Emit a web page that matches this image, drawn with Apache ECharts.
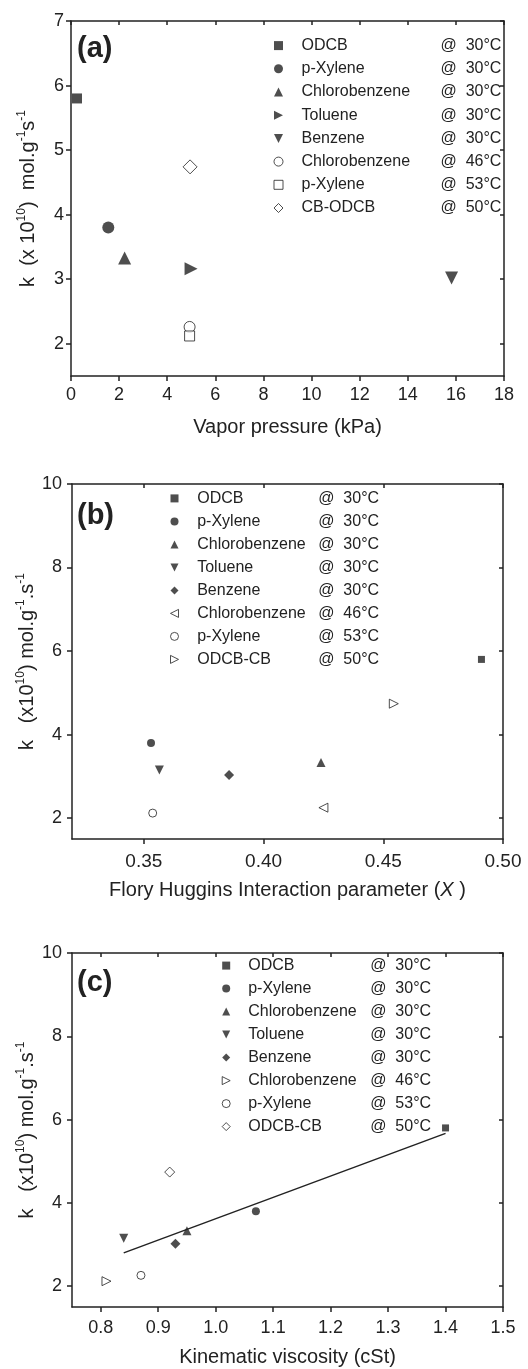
<!DOCTYPE html>
<html>
<head>
<meta charset="utf-8">
<script src="https://cdn.jsdelivr.net/npm/echarts@6/dist/echarts.min.js"></script>
<style>
  html, body { margin: 0; padding: 0; background: #fff; }
  #chart { width: 528px; height: 1369px; }
</style>
</head>
<body>
<div id="chart"></div>
<script>
// ---- data ----
var tempsA = ['30', '30', '30', '30', '30', '46', '53', '50'];
var namesA = ['ODCB', 'p-Xylene', 'Chlorobenzene', 'Toluene', 'Benzene', 'Chlorobenzene', 'p-Xylene', 'CB-ODCB'];
var xA = [0.25, 1.55, 2.23, 4.99, 15.82, 4.93, 4.93, 4.95];
var yA = [5.80, 3.80, 3.33, 3.16, 3.02, 2.26, 2.12, 4.74];

var tempsB = ['30', '30', '30', '30', '30', '46', '53', '50'];
var namesB = ['ODCB', 'p-Xylene', 'Chlorobenzene', 'Toluene', 'Benzene', 'Chlorobenzene', 'p-Xylene', 'ODCB-CB'];
var xB = [0.491, 0.353, 0.424, 0.3565, 0.3856, 0.425, 0.3537, 0.4544];
var yB = [5.80, 3.80, 3.33, 3.15, 3.03, 2.25, 2.12, 4.74];

var tempsC = ['30', '30', '30', '30', '30', '46', '53', '50'];
var namesC = ['ODCB', 'p-Xylene', 'Chlorobenzene', 'Toluene', 'Benzene', 'Chlorobenzene', 'p-Xylene', 'ODCB-CB'];
var xC = [1.40, 1.07, 0.95, 0.84, 0.93, 0.81, 0.87, 0.92];
var yC = [5.80, 3.80, 3.33, 3.15, 3.02, 2.12, 2.26, 4.74];
var fitX = [0.84, 1.40];
var fitY = [2.80, 5.67];

var ticksAX = [0, 2, 4, 6, 8, 10, 12, 14, 16, 18];
var ticksAY = [2, 3, 4, 5, 6, 7];
var ticksBX = [0.35, 0.40, 0.45, 0.50];
var ticksBY = [2, 4, 6, 8, 10];
var ticksCX = [0.8, 0.9, 1.0, 1.1, 1.2, 1.3, 1.4, 1.5];
var ticksCY = [2, 4, 6, 8, 10];

// ---- styling ----
var FONT = 'Liberation Sans, Arial, sans-serif';
var INK = '#222';

// legend icons for the rotated triangles (legend does not pick up symbolRotate)
var ICON = {
  '0': 'triangle',
  '-90': 'path://M0,0L10,5L0,10Z',
  '180': 'path://M0,0L10,0L5,10Z',
  '90': 'path://M10,0L0,5L10,10Z'
};

// marker: [symbol, rotate, filled, size]
var markA = [['rect', 0, 1, 10], ['circle', 0, 1, 12], ['triangle', 0, 1, 13], ['triangle', -90, 1, 13],
  ['triangle', 180, 1, 13], ['circle', 0, 0, 11], ['rect', 0, 0, 10], ['diamond', 0, 0, 14]];
var markB = [['rect', 0, 1, 7], ['circle', 0, 1, 8], ['triangle', 0, 1, 9], ['triangle', 180, 1, 9],
  ['diamond', 0, 1, 10], ['triangle', 90, 0, 9], ['circle', 0, 0, 8], ['triangle', -90, 0, 9]];
var markC = [['rect', 0, 1, 7], ['circle', 0, 1, 8], ['triangle', 0, 1, 9], ['triangle', 180, 1, 9],
  ['diamond', 0, 1, 10], ['triangle', -90, 0, 9], ['circle', 0, 0, 8], ['diamond', 0, 0, 10]];

var myChart = echarts.init(document.getElementById('chart'), null, { renderer: 'canvas' });

var labelMap = {};
var series = [];
var legends = [];

function addPanel(key, idx, names, temps, xs, ys, marks, lg) {
  var items = [];
  for (var i = 0; i < names.length; i++) {
    var id = key + i;
    var m = marks[i];
    var style = m[2] ? { color: INK, borderWidth: 0 } : { color: '#fff', borderColor: INK, borderWidth: 1 };
    items.push({ name: id, icon: m[0] === 'triangle' ? ICON[String(m[1])] : m[0], itemStyle: style });
    labelMap[id] = { n: names[i], t: temps[i] };
    series.push({
      name: id,
      type: 'scatter',
      xAxisIndex: idx * 2,
      yAxisIndex: idx * 2,
      symbol: m[0],
      symbolRotate: m[1],
      symbolSize: m[3],
      itemStyle: style,
      data: [[xs[i], ys[i]]],
      z: 3
    });
  }
  legends.push({
    data: items,
    orient: 'vertical',
    left: lg.left,
    top: lg.top,
    padding: 0,
    itemGap: lg.gap,
    itemWidth: lg.icon,
    itemHeight: lg.icon,
    selectedMode: false,
    formatter: function (name) {
      var o = labelMap[name];
      return '{n|' + o.n + '}{t|@  ' + o.t + '°C}';
    },
    textStyle: {
      fontFamily: FONT,
      fontSize: 16,
      color: INK,
      rich: {
        n: { fontFamily: FONT, fontSize: 16, color: INK, width: lg.nameW, padding: [0, 0, 0, lg.pad] },
        t: { fontFamily: FONT, fontSize: 16, color: INK }
      }
    }
  });
}

addPanel('a', 0, namesA, tempsA, xA, yA, markA, { left: 273.5, top: 37.6, gap: 7.2, icon: 9, pad: 13.5, nameW: 139 });
addPanel('b', 1, namesB, tempsB, xB, yB, markB, { left: 170, top: 490.4, gap: 7, icon: 8, pad: 13.7, nameW: 121 });
addPanel('c', 2, namesC, tempsC, xC, yC, markC, { left: 221.7, top: 957.6, gap: 7, icon: 8, pad: 13, nameW: 122 });

series.push({
  name: 'fit',
  type: 'line',
  xAxisIndex: 4,
  yAxisIndex: 4,
  symbol: 'none',
  lineStyle: { color: INK, width: 1.5 },
  data: fitX.map(function (x, i) { return [x, fitY[i]]; }),
  z: 2
});

function xAxes(grid, min, max, ticks, dec, name, nameGap, margin, fs) {
  var lineStyle = { color: INK, width: 1.5 };
  return [{
    type: 'value', gridIndex: grid, position: 'bottom', min: min, max: max,
    axisLine: { show: true, onZero: false, lineStyle: lineStyle },
    axisTick: { show: true, inside: false, length: 5, customValues: ticks, lineStyle: lineStyle },
    axisLabel: {
      show: true, customValues: ticks, margin: margin, fontSize: fs, fontFamily: FONT, color: INK,
      formatter: function (v) { return v.toFixed(dec); }
    },
    splitLine: { show: false },
    name: name, nameLocation: 'middle', nameGap: nameGap, nameMoveOverlap: false,
    nameTextStyle: {
      fontSize: 20, fontFamily: FONT, color: INK,
      rich: { i: { fontSize: 20, fontFamily: FONT, fontStyle: 'italic', color: INK } }
    }
  }, {
    type: 'value', gridIndex: grid, position: 'top', min: min, max: max,
    axisLine: { show: true, onZero: false, lineStyle: lineStyle },
    axisTick: { show: true, inside: true, length: 4, customValues: ticks, lineStyle: lineStyle },
    axisLabel: { show: false },
    splitLine: { show: false }
  }];
}

function yAxes(grid, min, max, ticks, name, nameGap, margin, fs) {
  var lineStyle = { color: INK, width: 1.5 };
  return [{
    type: 'value', gridIndex: grid, position: 'left', min: min, max: max,
    axisLine: { show: true, onZero: false, lineStyle: lineStyle },
    axisTick: { show: true, inside: false, length: 5, customValues: ticks, lineStyle: lineStyle },
    axisLabel: { show: true, customValues: ticks, margin: margin, fontSize: fs, fontFamily: FONT, color: INK },
    splitLine: { show: false },
    name: name, nameLocation: 'middle', nameGap: nameGap, nameMoveOverlap: false,
    nameTextStyle: {
      fontSize: 20, fontFamily: FONT, color: INK, lineHeight: 24,
      rich: { s: { fontSize: 12, fontFamily: FONT, color: INK, verticalAlign: 'top' } }
    }
  }, {
    type: 'value', gridIndex: grid, position: 'right', min: min, max: max,
    axisLine: { show: true, onZero: false, lineStyle: lineStyle },
    axisTick: { show: true, inside: true, length: 4, customValues: ticks, lineStyle: lineStyle },
    axisLabel: { show: false },
    splitLine: { show: false }
  }];
}

var option = {
  animation: false,
  backgroundColor: '#fff',
  title: [
    { text: '(a)', left: 77, top: 34, padding: 0, textStyle: { fontSize: 29, fontWeight: 'bold', fontFamily: FONT, color: INK } },
    { text: '(b)', left: 77, top: 501, padding: 0, textStyle: { fontSize: 29, fontWeight: 'bold', fontFamily: FONT, color: INK } },
    { text: '(c)', left: 77, top: 968, padding: 0, textStyle: { fontSize: 29, fontWeight: 'bold', fontFamily: FONT, color: INK } }
  ],
  legend: legends,
  grid: [
    { left: 71, top: 21, width: 433, height: 355 },
    { left: 72, top: 484, width: 431, height: 355 },
    { left: 72, top: 953, width: 431, height: 354 }
  ],
  xAxis: [].concat(
    xAxes(0, 0, 18, ticksAX, 0, 'Vapor pressure (kPa)', 41, 10, 18),
    xAxes(1, 0.32, 0.50, ticksBX, 2, 'Flory Huggins Interaction parameter ({i|X} )', 41, 13, 19),
    xAxes(2, 0.75, 1.5, ticksCX, 1, 'Kinematic viscosity (cSt)', 40, 12, 18)
  ),
  yAxis: [].concat(
    yAxes(0, 1.5, 7, ticksAY, 'k  (x 10{s|10})  mol.g{s|-1}s{s|-1}', 31, 7, 18),
    yAxes(1, 1.5, 10, ticksBY, 'k   (x10{s|10}) mol.g{s|-1}.s{s|-1}', 33, 10, 18),
    yAxes(2, 1.5, 10, ticksCY, 'k   (x10{s|10}) mol.g{s|-1}.s{s|-1}', 33, 10, 18)
  ),
  series: series
};

myChart.setOption(option);
</script>
</body>
</html>
